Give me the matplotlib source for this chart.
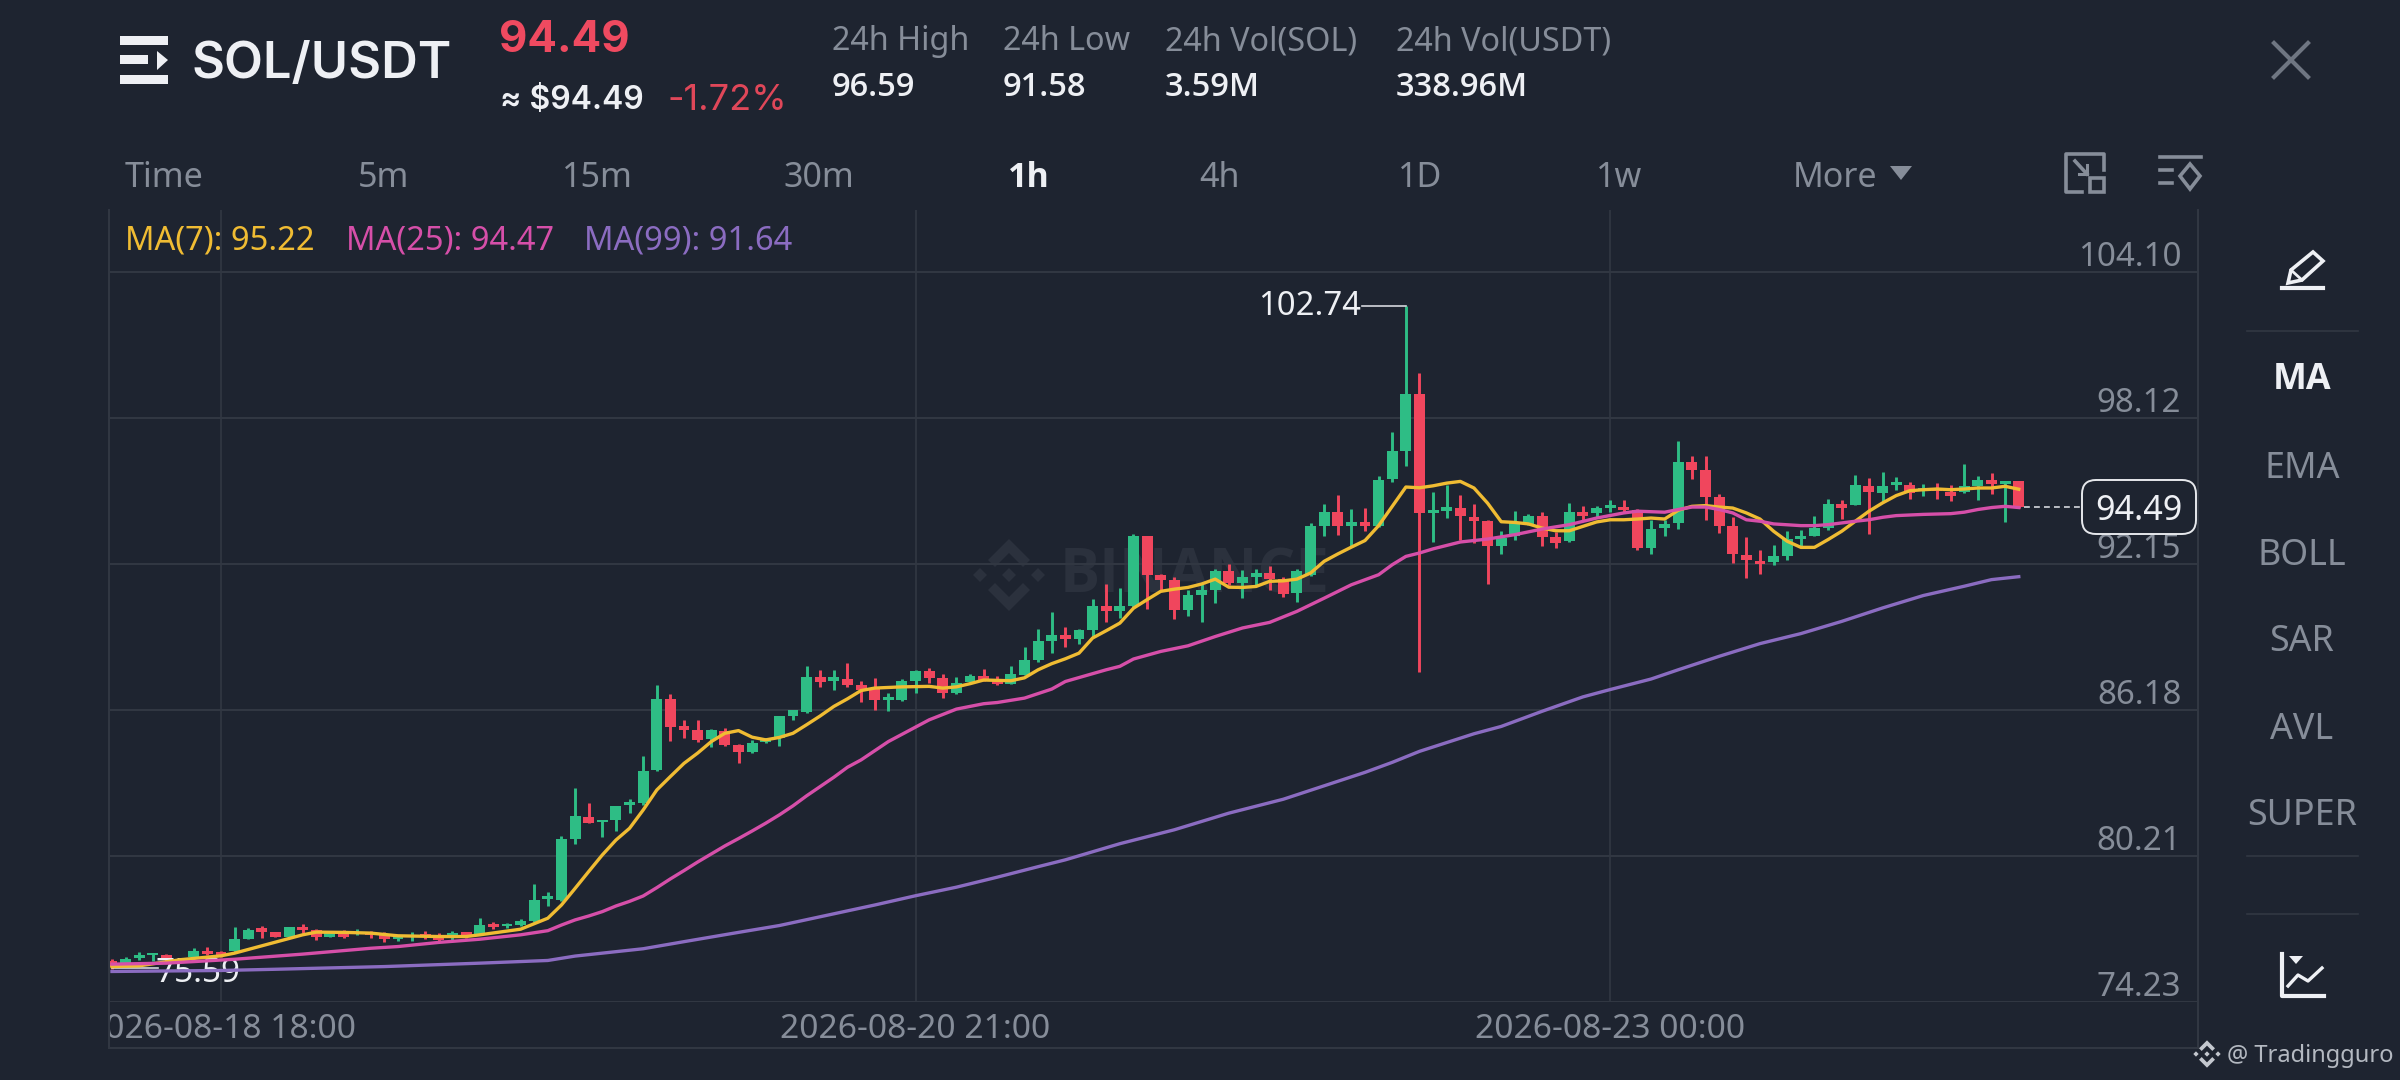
import matplotlib
matplotlib.use("Agg")
import matplotlib.pyplot as plt
from matplotlib.patches import Polygon, Rectangle, FancyBboxPatch
from matplotlib.transforms import Bbox

# Hourly candles
opens = [75.89, 75.75, 76.05, 76.15, 76.16, 75.99, 76.07, 76.30, 76.26, 76.30,
         76.80, 77.25, 77.09, 76.90, 77.31, 77.16, 76.91, 77.05, 77.02, 77.08,
         76.97, 76.82, 76.88, 77.01, 76.91, 76.84, 77.08, 77.02, 77.42, 77.35,
         77.39, 77.55, 78.44, 78.41, 80.91, 81.82, 81.61, 81.66, 82.30, 82.37,
         83.71, 86.64, 85.51, 85.37, 84.99, 85.34, 84.76, 84.48, 84.87, 85.03,
         85.92, 86.12, 87.53, 87.39, 87.46, 87.21, 87.08, 86.60, 86.60, 87.35,
         87.76, 87.49, 86.87, 87.31, 87.58, 87.45, 87.26, 87.62, 88.21, 89.00,
         89.26, 89.10, 89.47, 90.45, 90.22, 90.42, 93.29, 91.69, 91.49, 90.29,
         90.90, 91.08, 91.88, 91.38, 91.62, 91.79, 91.54, 90.97, 91.72, 93.73,
         94.27, 93.73, 93.88, 93.70, 95.64, 96.80, 99.13, 94.24, 94.31, 94.45,
         94.08, 93.90, 92.91, 93.29, 93.77, 94.11, 93.27, 93.09, 94.28, 94.25,
         94.45, 94.49, 94.36, 92.82, 93.63, 93.84, 96.34, 95.99, 94.89, 93.70,
         92.54, 92.30, 92.23, 92.47, 93.18, 93.32, 93.63, 94.62, 94.59, 95.37,
         95.07, 95.38, 95.41, 95.16, 95.27, 95.11, 95.09, 95.37, 95.61, 95.45,
         95.55]
highs = [75.98, 76.07, 76.27, 76.23, 76.19, 76.02, 76.43, 76.50, 76.30, 77.32,
         77.25, 77.35, 77.10, 77.32, 77.43, 77.21, 77.15, 77.19, 77.21, 77.12,
         77.08, 76.98, 77.08, 77.12, 77.05, 77.15, 77.10, 77.65, 77.50, 77.46,
         77.62, 79.06, 78.73, 81.01, 82.99, 82.39, 81.68, 82.26, 82.53, 84.31,
         87.21, 86.83, 85.78, 85.78, 85.40, 85.44, 84.78, 84.96, 85.05, 85.92,
         86.19, 87.97, 87.83, 87.80, 88.10, 87.39, 87.49, 86.87, 87.45, 87.83,
         87.92, 87.65, 87.53, 87.66, 87.88, 87.56, 87.99, 88.78, 89.49, 90.20,
         89.56, 89.49, 90.72, 91.35, 91.17, 93.38, 93.30, 91.75, 91.61, 91.10,
         91.38, 91.95, 92.16, 91.92, 91.97, 92.06, 91.62, 91.95, 93.83, 94.61,
         94.98, 94.41, 94.44, 95.77, 97.56, 102.74, 99.98, 95.12, 95.40, 95.00,
         94.61, 93.97, 93.53, 94.34, 94.22, 94.28, 93.46, 94.66, 94.55, 94.52,
         94.79, 94.79, 94.41, 93.97, 93.97, 97.18, 96.57, 96.57, 95.04, 94.08,
         93.27, 92.75, 92.95, 93.50, 93.54, 94.11, 94.82, 94.79, 95.82, 95.68,
         95.91, 95.72, 95.52, 95.45, 95.48, 95.41, 96.25, 95.75, 95.89, 95.55,
         95.55]
lows = [75.59, 75.75, 75.96, 75.89, 75.89, 75.90, 76.03, 76.16, 76.09, 76.26,
        76.80, 76.87, 76.88, 76.90, 77.05, 76.78, 76.90, 76.87, 76.98, 76.83,
        76.67, 76.71, 76.71, 76.82, 76.67, 76.71, 76.84, 76.98, 77.21, 77.24,
        77.35, 77.52, 78.18, 78.38, 80.71, 81.55, 81.00, 81.25, 81.98, 82.30,
        83.70, 84.93, 85.03, 84.89, 84.66, 84.69, 84.01, 84.42, 84.84, 84.69,
        85.78, 86.05, 87.12, 87.01, 87.12, 86.50, 86.19, 86.16, 86.57, 86.87,
        87.28, 86.67, 86.85, 87.31, 87.35, 87.21, 87.24, 87.60, 88.14, 88.51,
        88.76, 88.88, 89.19, 89.77, 89.95, 90.40, 90.31, 91.04, 89.90, 90.04,
        89.77, 90.56, 91.31, 90.75, 91.31, 91.10, 90.80, 90.59, 91.65, 93.29,
        93.36, 92.91, 93.49, 93.67, 95.50, 96.18, 87.72, 93.08, 94.04, 93.15,
        93.02, 91.34, 92.58, 93.15, 93.75, 92.88, 92.81, 93.08, 93.97, 94.04,
        94.28, 94.28, 92.72, 92.58, 93.32, 93.59, 95.64, 93.95, 93.43, 92.20,
        91.59, 91.76, 92.13, 92.31, 92.88, 93.29, 93.57, 94.00, 94.58, 93.40,
        94.68, 95.18, 94.82, 94.93, 94.82, 94.75, 95.07, 94.78, 95.01, 93.88,
        94.46]
closes = [75.68, 75.98, 76.16, 76.23, 75.93, 75.93, 76.33, 76.19, 76.15, 76.80,
          77.19, 77.08, 76.88, 77.28, 77.16, 76.91, 77.09, 76.88, 77.09, 76.98,
          76.80, 76.91, 76.98, 76.88, 76.78, 77.05, 76.91, 77.39, 77.29, 77.43,
          77.54, 78.41, 78.55, 80.90, 81.83, 81.57, 81.68, 82.26, 82.43, 83.70,
          86.64, 85.48, 85.37, 84.96, 85.37, 84.76, 84.48, 84.85, 85.03, 85.92,
          86.19, 87.53, 87.34, 87.53, 87.20, 87.01, 86.60, 86.71, 87.35, 87.76,
          87.49, 86.87, 87.28, 87.58, 87.42, 87.26, 87.65, 88.21, 89.00, 89.25,
          89.10, 89.47, 90.45, 90.24, 90.42, 93.29, 91.69, 91.51, 90.29, 90.87,
          91.08, 91.88, 91.38, 91.62, 91.79, 91.54, 90.94, 91.88, 93.73, 94.27,
          93.73, 93.88, 93.70, 95.61, 96.77, 99.13, 94.24, 94.35, 94.48, 94.11,
          93.92, 92.91, 93.22, 93.83, 94.11, 93.27, 93.02, 94.29, 94.11, 94.45,
          94.59, 94.36, 92.82, 93.61, 93.81, 96.34, 96.02, 94.89, 93.70, 92.57,
          92.31, 92.17, 92.47, 93.20, 93.29, 93.63, 94.63, 94.45, 95.38, 95.09,
          95.34, 95.52, 95.07, 95.27, 95.13, 94.93, 95.34, 95.59, 95.44, 95.55,
          94.49]

# Moving averages, read at the candles where the line is easiest to see
ma7_x = [0, 2, 5, 8, 9, 14, 15, 17, 19, 21, 24, 26, 27, 30, 32, 33, 34, 35, 36, 37,
         38, 39, 40, 41, 42, 43, 44, 45, 46, 47, 48, 49, 50, 51, 52, 53, 54, 55, 56, 58,
         60, 61, 62, 63, 64, 66, 67, 68, 69, 70, 71, 72, 73, 74, 75, 76, 77, 78, 79, 80,
         81, 82, 83, 84, 85, 86, 87, 88, 89, 90, 91, 92, 93, 94, 95, 96, 97, 98, 99, 100,
         101, 102, 103, 104, 105, 106, 107, 108, 109, 110, 111, 112, 113, 114, 115, 116, 117, 118, 119, 120,
         121, 122, 123, 124, 125, 126, 127, 128, 129, 130, 131, 132, 133, 134, 135, 136, 137, 138, 139, 140]
ma7 = [75.68, 75.71, 75.96, 76.12, 76.23, 76.98, 77.09, 77.08, 77.05, 76.94, 76.91, 76.91, 76.98, 77.21, 77.66, 78.20, 78.88, 79.57, 80.25, 80.86,
       81.34, 82.09, 82.91, 83.46, 84.00, 84.42, 84.89, 85.23, 85.34, 85.07, 84.96, 85.06, 85.23, 85.58, 85.94, 86.33, 86.64, 86.98, 87.08, 87.13,
       87.15, 87.08, 87.13, 87.26, 87.41, 87.38, 87.50, 87.83, 88.08, 88.28, 88.51, 89.13, 89.43, 89.74, 90.35, 90.70, 91.04, 91.13, 91.20, 91.34,
       91.54, 91.21, 91.20, 91.24, 91.45, 91.47, 91.54, 91.79, 92.27, 92.57, 92.85, 93.12, 93.73, 94.52, 95.31, 95.28, 95.36, 95.47, 95.54, 95.27,
       94.65, 93.89, 93.86, 93.80, 93.63, 93.52, 93.52, 93.70, 93.88, 93.97, 93.97, 94.00, 94.04, 94.00, 94.36, 94.52, 94.55, 94.49, 94.45, 94.25,
       94.00, 93.50, 93.09, 92.84, 92.84, 93.16, 93.50, 93.91, 94.32, 94.66, 94.96, 95.16, 95.20, 95.23, 95.20, 95.23, 95.27, 95.27, 95.34, 95.22]

ma25_x = [0, 4, 9, 14, 19, 21, 24, 27, 30, 32, 33, 34, 35, 36, 37, 38, 39, 40, 41, 42,
          43, 44, 45, 46, 47, 48, 49, 50, 51, 52, 53, 54, 55, 57, 60, 62, 64, 65, 67, 69,
          70, 71, 73, 74, 75, 77, 79, 81, 83, 85, 87, 89, 91, 93, 94, 95, 96, 97, 99, 101,
          103, 105, 107, 109, 111, 112, 114, 115, 116, 117, 118, 119, 120, 121, 122, 124, 125, 126, 127, 128,
          129, 130, 131, 133, 135, 136, 137, 138, 139, 140]
ma25 = [75.78, 75.82, 75.98, 76.19, 76.43, 76.50, 76.67, 76.80, 76.98, 77.15, 77.38, 77.59, 77.75, 77.93, 78.16, 78.35, 78.57, 78.91, 79.27, 79.61,
        79.96, 80.29, 80.62, 80.92, 81.23, 81.55, 81.89, 82.26, 82.67, 83.05, 83.43, 83.84, 84.14, 84.89, 85.78, 86.22, 86.44, 86.49, 86.67, 87.04,
        87.35, 87.51, 87.83, 87.97, 88.27, 88.58, 88.81, 89.19, 89.54, 89.77, 90.22, 90.76, 91.31, 91.72, 92.13, 92.47, 92.61, 92.78, 93.06, 93.18,
        93.36, 93.59, 93.77, 94.04, 94.25, 94.32, 94.28, 94.39, 94.49, 94.49, 94.39, 94.25, 93.97, 93.91, 93.80, 93.73, 93.73, 93.77, 93.84, 93.91,
        93.97, 94.07, 94.14, 94.19, 94.22, 94.28, 94.39, 94.47, 94.52, 94.47]

ma99_x = [0, 8, 12, 20, 27, 32, 34, 38, 39, 42, 46, 49, 52, 56, 59, 62, 65, 68, 70, 74,
          78, 82, 86, 89, 92, 94, 96, 100, 102, 105, 108, 110, 113, 115, 118, 121, 124, 127, 130, 133,
          136, 138, 140]
ma99 = [75.48, 75.52, 75.57, 75.68, 75.82, 75.93, 76.11, 76.35, 76.41, 76.70, 77.08, 77.36, 77.72, 78.20, 78.58, 78.93, 79.34, 79.77, 80.05, 80.71,
        81.28, 81.96, 82.53, 83.08, 83.63, 84.04, 84.49, 85.21, 85.51, 86.13, 86.72, 87.02, 87.45, 87.83, 88.38, 88.90, 89.31, 89.81, 90.36, 90.87,
        91.25, 91.52, 91.64]

price_ticks = [104.10, 98.12, 92.15, 86.18, 80.21, 74.23]
time_ticks = [8, 59, 110]
time_labels = ["2026-08-18 18:00", "2026-08-20 21:00", "2026-08-23 00:00"]

last_price = 94.49
day_high = 102.74
day_low = 75.59

tabs = ["Time", "5m", "15m", "30m", "1h", "4h", "1D", "1w", "More"]
tab_x = [164, 383, 597, 819, 1029, 1220, 1420, 1619, 1835]
stats = [("24h High", "96.59", 832), ("24h Low", "91.58", 1003),
         ("24h Vol(SOL)", "3.59M", 1165), ("24h Vol(USDT)", "338.96M", 1396)]
side_labels = ["MA", "EMA", "BOLL", "SAR", "AVL", "SUPER"]
side_y = [376, 465, 552, 638, 726, 812]
legend = [("MA(7): 95.22", 125), ("MA(25): 94.47", 346), ("MA(99): 91.64", 584)]

BG = "#1e2430"
GRID = "#323843"
GREY = "#868d99"
WHITE = "#eef0f4"
GREEN = "#2ebd85"
RED = "#f0465d"
YELLOW = "#f0bc33"
PINK = "#d64fa9"
PURPLE = "#8b6cc1"

plt.rcParams["font.family"] = ["Noto Sans", "DejaVu Sans"]

fig = plt.figure(figsize=(24, 10.8), dpi=100, facecolor=BG)


def pixel_axes(zorder):
    # full figure axes in image pixels, for everything that is not a price
    a = fig.add_axes([0, 0, 1, 1], zorder=zorder)
    a.set_xlim(0, 2400)
    a.set_ylim(1080, 0)
    a.axis("off")
    a.patch.set_alpha(0)
    return a


def binance_logo(a, cx, cy, s, color):
    for dx in (-29, 0, 29):
        a.add_patch(Polygon([(cx + (dx - 7) * s, cy), (cx + dx * s, cy - 7 * s),
                             (cx + (dx + 7) * s, cy), (cx + dx * s, cy + 7 * s)], color=color, lw=0))
    for sign in (-1, 1):
        pts = [(0, 36), (21, 15), (14, 8), (0, 22), (-14, 8), (-21, 15)]
        a.add_patch(Polygon([(cx + px * s, cy + sign * py * s) for px, py in pts], color=color, lw=0))


back = pixel_axes(0)
ui = pixel_axes(2)

# Watermark sits under the candles
binance_logo(back, 1009, 575, 1.0, "#2b313d")
back.text(1060, 577, "BINANCE", color="#2b313d", fontsize=43, fontfamily="Open Sans", fontweight="bold", va="center")

# Chart area, limits set so the price and candle scales land on the same pixels as the reference
ax = fig.add_axes([110 / 2400, 1 - 1002 / 1080, (2198 - 110) / 2400, (1002 - 210) / 1080], zorder=1)
ax.patch.set_alpha(0)
ax.set_xlim(-0.147, 153.16)
ax.set_ylim(74.23, 106.65)
for s in ax.spines.values():
    s.set_visible(False)
ax.tick_params(left=False, bottom=False, labelleft=False, labelbottom=False)

ax.hlines(price_ticks, -0.147, 153.16, color=GRID, lw=1.4, zorder=1)
ax.vlines(time_ticks, 74.23, 106.65, color=GRID, lw=1.2, zorder=1)

# Candles
for i in range(len(opens)):
    c = GREEN if closes[i] >= opens[i] else RED
    ax.vlines(i, lows[i], highs[i], color=c, lw=2.1, zorder=2)
    ax.bar(i, abs(closes[i] - opens[i]), bottom=min(opens[i], closes[i]), width=0.8, color=c, lw=0, zorder=3)

# High and low callouts go under the MA lines
ax.plot([95, 91.8], [day_high, day_high], color="#d5d8de", lw=1.2, zorder=4)
ax.annotate(f"{day_high:.2f}", (91.7, day_high), xytext=(0, -1), textcoords="offset points",
            color=WHITE, fontsize=23.6, ha="right", va="center", zorder=4)
ax.plot([0, 3.4], [day_low + 0.03, day_low + 0.03], color="#d5d8de", lw=1.2, zorder=4)
ax.annotate(f"{day_low:.2f}", (3.2, day_low), xytext=(0, -3.5), textcoords="offset points",
            color=WHITE, fontsize=24, ha="left", va="center", zorder=4)

ax.plot(ma7_x, ma7, color=YELLOW, lw=2.4, zorder=5)
ax.plot(ma25_x, ma25, color=PINK, lw=2.4, zorder=6)
ax.plot(ma99_x, ma99, color=PURPLE, lw=2.4, zorder=7)

# Last price dashes
ax.plot([140.4, 144.7], [last_price, last_price], color="#d5d8de", lw=1.2, dashes=(3.5, 2.5), zorder=4)

# Price labels above their grid lines
for p in price_ticks:
    ax.annotate(f"{p:.2f}", (153.16, p), xytext=(-12, -1.5), textcoords="offset points",
                color=GREY, fontsize=23.8, ha="right", va="bottom", annotation_clip=False)

# Time labels, the first one is cut by the left edge
for i, lab in zip(time_ticks, time_labels):
    t = ax.annotate(lab, (i, 74.23), xytext=(0, -20), textcoords="offset points",
                    color=GREY, fontsize=24.2, ha="center", va="center", annotation_clip=False)
    t.set_clip_on(True)
    t.set_clip_box(Bbox([[109, 0], [2198, 1080]]))

# Frame of the chart
ui.plot([109, 109], [210, 1048], color=GRID, lw=1.4)
ui.plot([2198, 2198], [210, 1048], color=GRID, lw=1.4)
ui.plot([109, 2198], [1048, 1048], color=GRID, lw=1.4)

# Current price box
ui.add_patch(FancyBboxPatch((2094, 492), 90, 30, boxstyle="round,pad=12,rounding_size=14",
                            fc=BG, ec="#e6e8ec", lw=1.4, zorder=5))
ui.text(2139, 511, f"{last_price:.2f}", color=WHITE, fontsize=24.5, ha="center", va="center", zorder=6)

# Header
ui.add_patch(Rectangle((120, 36), 48, 9, color=WHITE, lw=0))
ui.add_patch(Rectangle((120, 55), 28, 9, color=WHITE, lw=0))
ui.add_patch(Polygon([(157, 51), (168, 60), (157, 70)], color=WHITE, lw=0))
ui.add_patch(Rectangle((120, 75), 48, 9, color=WHITE, lw=0))
ui.text(192, 65, "SOL/USDT", color=WHITE, fontsize=36.5, fontfamily="Inter", fontweight="semibold", va="center")
ui.text(499, 41, f"{last_price:.2f}", color="#ef4a60", fontsize=31.5, fontfamily="Inter", fontweight="bold", va="center")
ui.text(500, 100, f"≈ ${last_price:.2f}", color=WHITE, fontsize=23, fontfamily="Inter", fontweight="semibold", va="center")
ui.text(668, 100, "-1.72%", color="#e04759", fontsize=26, fontfamily="Inter", va="center")
for name, val, x in stats:
    ui.text(x, 42, name, color=GREY, fontsize=23.3, va="center")
    ui.text(x, 88, val, color=WHITE, fontsize=23.5, fontfamily="Open Sans", fontweight="semibold", va="center")

# Close button
ui.plot([2274, 2308], [43, 77], color="#6f7682", lw=3)
ui.plot([2274, 2308], [77, 43], color="#6f7682", lw=3)

# Interval tabs
for lab, x in zip(tabs, tab_x):
    active = lab == "1h"
    ui.text(x, 178, lab, color=WHITE if active else GREY, fontsize=24.5,
            fontfamily="Open Sans" if active else "Noto Sans",
            fontweight="bold" if active else "normal", ha="center", va="center")
ui.add_patch(Polygon([(1890, 166), (1912, 166), (1901, 180)], color=GREY, lw=0))

# Layout icons at the end of the tab row
ui.plot([2104, 2104, 2066, 2066, 2082], [170, 154, 154, 192, 192], color=GREY, lw=2.6)
ui.add_patch(Rectangle((2090, 178), 14, 14, fc="none", ec=GREY, lw=2.6))
ui.plot([2075, 2087], [161, 174], color=GREY, lw=2.6)
ui.plot([2087, 2087], [165, 174], color=GREY, lw=2.2)
ui.plot([2079, 2087], [174, 174], color=GREY, lw=2.2)
ui.plot([2160, 2201], [157, 157], color=GREY, lw=2.6)
ui.plot([2160, 2172], [170, 170], color=GREY, lw=2.6)
ui.plot([2160, 2172], [183, 183], color=GREY, lw=2.6)
ui.add_patch(Polygon([(2180, 176), (2190, 164), (2200, 176), (2190, 189)], fc="none", ec=GREY, lw=2.6))

# MA legend
for (lab, x), col in zip(legend, [YELLOW, PINK, PURPLE]):
    ui.text(x, 241, lab, color=col, fontsize=23.5, va="center")

# Side panel
ui.add_patch(Polygon([(2288, 283), (2291, 270), (2313, 252), (2323, 261), (2302, 280)],
                     fc="none", ec=WHITE, lw=2.6))
ui.plot([2291, 2302], [270, 280], color=WHITE, lw=2)
ui.plot([2282, 2323], [288, 288], color=WHITE, lw=3)
for y in (331, 856, 914):
    ui.plot([2247, 2358], [y, y], color=GRID, lw=1.2)
for lab, y in zip(side_labels, side_y):
    active = lab == "MA"
    ui.text(2302, y + 4, lab, color=WHITE if active else GREY, fontsize=25.8,
            fontfamily="Open Sans" if active else "Noto Sans",
            fontweight="bold" if active else "normal", ha="center", va="center")

ui.plot([2282, 2282, 2324], [954, 996, 996], color=WHITE, lw=3)
ui.plot([2288, 2298, 2308, 2322], [986, 975, 981, 968], color=WHITE, lw=2.4)
ui.add_patch(Polygon([(2289, 956), (2303, 956), (2296, 964)], color=WHITE, lw=0))

# Corner credit
binance_logo(ui, 2207, 1054, 0.38, "#c4c8cf")
ui.text(2227, 1056, "@ Tradingguro", color="#b4b9c1", fontsize=17, va="center")

fig.savefig("out.png", dpi=100, facecolor=BG)
